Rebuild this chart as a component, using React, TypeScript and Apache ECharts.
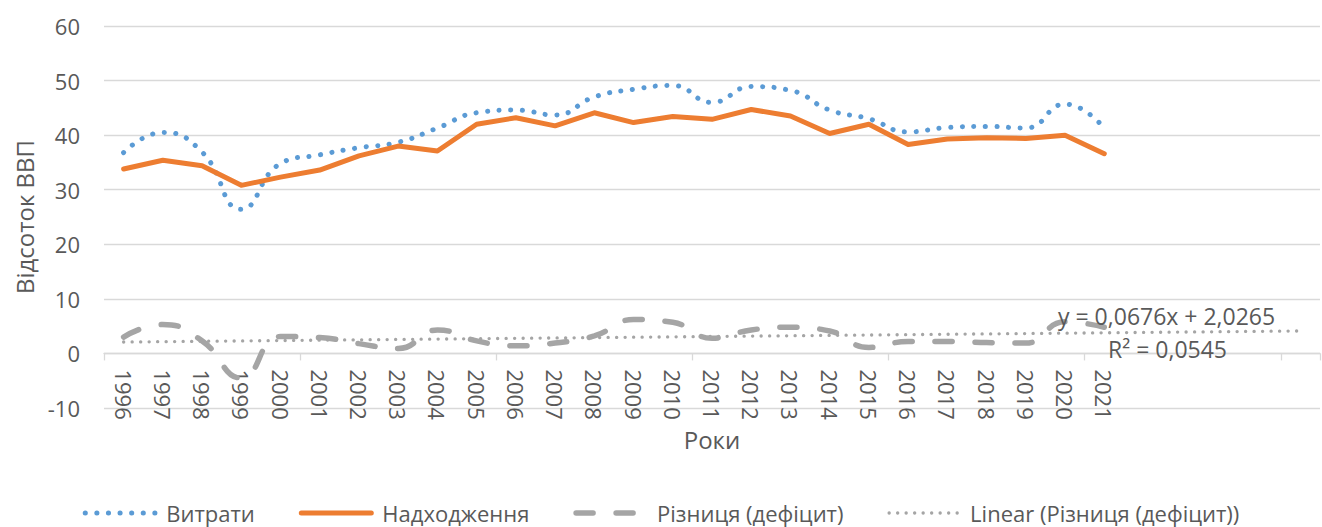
import React, { useEffect, useRef } from 'react';
import * as echarts from 'echarts';

const years = ['1996','1997','1998','1999','2000','2001','2002','2003','2004','2005','2006','2007','2008','2009','2010','2011','2012','2013','2014','2015','2016','2017','2018','2019','2020','2021'];
const forecastSlots = ['', '', '', '', ''];
const expenditure = [36.8, 40.5, 36.9, 26.4, 34.8, 36.4, 37.7, 38.7, 41.3, 44.1, 44.6, 43.7, 47.0, 48.4, 49.1, 46.0, 48.9, 48.2, 44.6, 43.0, 40.6, 41.4, 41.6, 41.3, 45.7, 41.3];
const revenue = [33.8, 35.4, 34.4, 30.8, 32.3, 33.6, 36.2, 38.0, 37.1, 42.0, 43.2, 41.7, 44.1, 42.3, 43.4, 42.9, 44.7, 43.5, 40.3, 42.0, 38.3, 39.3, 39.5, 39.4, 40.0, 36.6];
const deficit = [3.0, 5.3, 2.3, -4.5, 3.1, 2.9, 1.8, 0.9, 4.3, 2.3, 1.4, 1.9, 3.2, 6.2, 5.7, 2.8, 4.3, 4.8, 4.1, 1.1, 2.2, 2.2, 2.0, 1.9, 5.8, 4.8];
const trendStart = 2.09;
const trendEnd = 4.12;
const trendLabels = ['y = 0,0676x + 2,0265', 'R² = 0,0545'];
const seriesNames = ['Витрати', 'Надходження', 'Різниця (дефіцит)', 'Linear (Різниця (дефіцит))'];
const yMin = -10;
const yMax = 60;
const yStep = 10;

const FONT = '"Open Sans", sans-serif';
const TEXT = '#595959';
const GRID = '#D9D9D9';
const BLUE = '#5B9BD5';
const ORANGE = '#ED7D31';
const GRAY = '#A5A5A5';

const styles = [
  { color: BLUE, width: 5, type: [0.1, 11.5] as number[] | 'solid', cap: 'round' },
  { color: ORANGE, width: 5, type: 'solid' as number[] | 'solid', cap: 'round' },
  { color: GRAY, width: 5.5, type: [17, 23] as number[] | 'solid', cap: 'round' },
  { color: GRAY, width: 3.3, type: [0.1, 8.4] as number[] | 'solid', cap: 'round' },
];

export default function App() {
  const ref = useRef<HTMLDivElement>(null);
  useEffect(() => {
    document.body.style.margin = '0';
    if (!ref.current) return;
    const chart = echarts.init(ref.current, undefined, { renderer: 'svg' });
    const categories = [...years, ...forecastSlots];
    const trendData: (number | null)[] = categories.map(() => null);
    trendData[0] = trendStart;
    trendData[categories.length - 1] = trendEnd;
    const gridTop = 26;
    const gridBottom = 119;
    const gridHeight = 527 - gridTop - gridBottom;
    const zeroOffset = (gridHeight * (0 - yMin)) / (yMax - yMin);
    chart.setOption({
      animation: false,
      textStyle: { fontFamily: FONT },
      grid: { left: 104, right: 2, top: gridTop, bottom: gridBottom, containLabel: false },
      legend: {
        bottom: -2,
        left: 'center',
        itemWidth: 70,
        itemHeight: 20,
        itemGap: 44,
        textStyle: { fontSize: 22, color: TEXT, fontFamily: FONT, padding: [0, 0, 0, 6] },
        data: seriesNames.map((name, i) => ({
          name,
          itemStyle: { opacity: 0 },
          lineStyle: { ...styles[i] },
        })),
      },
      xAxis: {
        type: 'category',
        data: categories,
        boundaryGap: true,
        position: 'bottom',
        offset: -zeroOffset,
        name: 'Роки',
        nameLocation: 'middle',
        nameGap: 73,
        nameTextStyle: { fontSize: 24, color: TEXT, fontFamily: FONT },
        axisLine: { onZero: false, lineStyle: { color: GRID, width: 1.3 } },
        axisTick: { show: true, interval: 4, length: 7, lineStyle: { color: GRID, width: 1.3 } },
        axisLabel: { rotate: -90, interval: 0, fontSize: 22, margin: 16, color: TEXT, fontFamily: FONT },
        splitLine: { show: false },
      },
      yAxis: {
        type: 'value',
        min: yMin,
        max: yMax,
        interval: yStep,
        name: 'Відсоток ВВП',
        nameLocation: 'middle',
        nameGap: 66,
        nameRotate: 90,
        nameTextStyle: { fontSize: 24, color: TEXT, fontFamily: FONT },
        axisLine: { show: false },
        axisTick: { show: false },
        axisLabel: { fontSize: 22, margin: 24, color: TEXT, fontFamily: FONT },
        splitLine: { lineStyle: { color: GRID, width: 1.3 } },
      },
      series: [
        {
          name: seriesNames[0],
          type: 'line',
          data: expenditure,
          smooth: 0.5,
          symbol: 'none',
          color: BLUE,
          lineStyle: { ...styles[0] },
        },
        {
          name: seriesNames[1],
          type: 'line',
          data: revenue,
          symbol: 'none',
          color: ORANGE,
          lineStyle: { ...styles[1], join: 'round' },
        },
        {
          name: seriesNames[2],
          type: 'line',
          data: deficit,
          smooth: 0.5,
          symbol: 'none',
          color: GRAY,
          lineStyle: { ...styles[2] },
        },
        {
          name: seriesNames[3],
          type: 'line',
          data: trendData,
          connectNulls: true,
          symbol: 'none',
          color: GRAY,
          lineStyle: { ...styles[3] },
        },
      ],
      graphic: [
        {
          type: 'text',
          left: 1058,
          top: 304,
          z: 100,
          style: { text: trendLabels[0], fontSize: 23, fill: TEXT, fontFamily: FONT },
        },
        {
          type: 'text',
          left: 1108,
          top: 337,
          z: 100,
          style: { text: trendLabels[1], fontSize: 23, fill: TEXT, fontFamily: FONT },
        },
      ],
    });
    return () => chart.dispose();
  }, []);
  return <div ref={ref} style={{ width: 1322, height: 527 }} />;
}
